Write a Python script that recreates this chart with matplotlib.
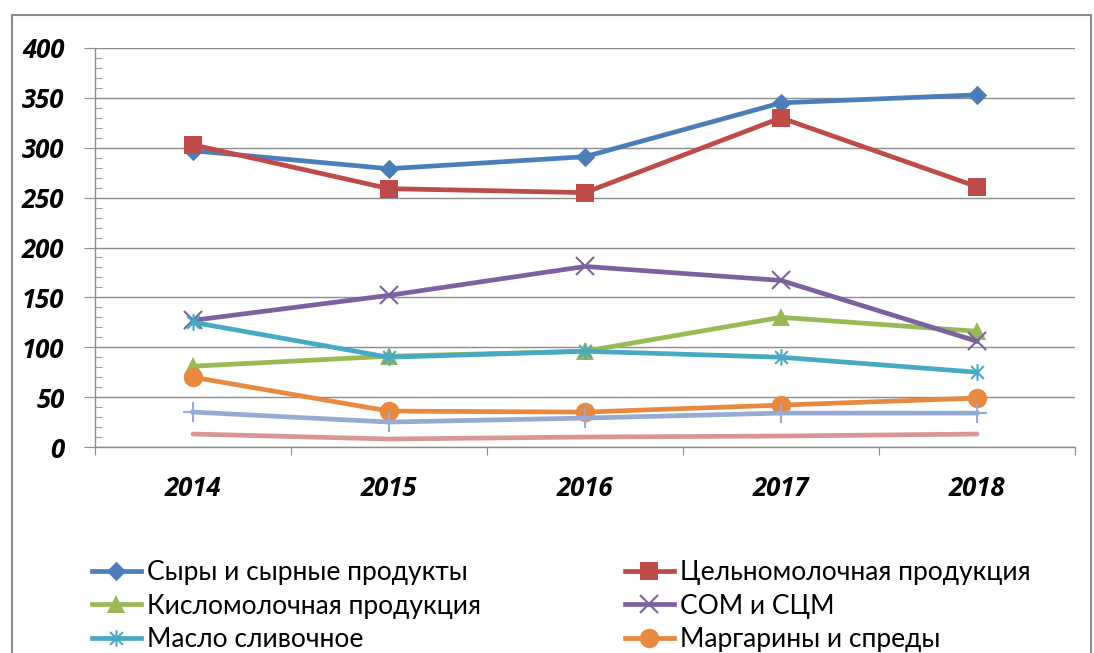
import matplotlib
matplotlib.use("Agg")
import matplotlib.pyplot as plt
from matplotlib.path import Path
from matplotlib.patches import Rectangle
from matplotlib.ticker import MultipleLocator, FixedLocator, NullFormatter
from matplotlib.font_manager import FontProperties

years = ["2014", "2015", "2016", "2017", "2018"]
cheese = [297, 279, 291, 345, 353]
whole_milk = [303, 259, 255, 330, 261]
sour_milk = [81, 91, 96, 130, 116]
som_scm = [127, 152, 181, 167, 106]
butter = [125, 90, 96, 90, 75]
margarine = [70, 36, 35, 42, 49]
series7 = [35, 25, 29, 34, 34]
series8 = [13, 8, 10, 11, 13]

names = ["Сыры и сырные продукты", "Цельномолочная продукция",
         "Кисломолочная продукция", "СОМ и СЦМ",
         "Масло сливочное", "Маргарины и спреды"]

W, H = 1094, 653
fig = plt.figure(figsize=(W / 100, H / 100), dpi=100)
fig.patch.set_facecolor("white")

# outer chart border
fig.add_artist(Rectangle((12 / W, -0.05), (1091 - 12) / W, (H - 15) / H + 0.05,
                         transform=fig.transFigure, fill=False,
                         edgecolor="#8c8c8c", linewidth=1.5))

ax = fig.add_axes([95 / W, (H - 447) / H, 980 / W, 399 / H])

x = list(range(len(years)))

# asterisk marker: x plus vertical line
ast = Path([(-1, -1), (1, 1), (-1, 1), (1, -1), (0, -1.3), (0, 1.3)],
           [Path.MOVETO, Path.LINETO, Path.MOVETO, Path.LINETO, Path.MOVETO, Path.LINETO])

lw = 3.4
h_cheese, = ax.plot(x, cheese, color="#4A7EBB", lw=lw, marker=(4, 0, 0), ms=14, mew=0,
                    label=names[0])
h_whole, = ax.plot(x, whole_milk, color="#BE4B48", lw=lw, marker="s", ms=12.5, mew=0,
                   label=names[1])
h_sour, = ax.plot(x, sour_milk, color="#98B954", lw=lw, marker="^", ms=13, mew=0,
                  label=names[2])
h_som, = ax.plot(x, som_scm, color="#7D60A0", lw=lw, marker="x", ms=13, mew=1.5,
                 label=names[3])
h_butter, = ax.plot(x, butter, color="#46AAC5", lw=lw, marker=ast, ms=12, mew=1.5,
                    label=names[4])
h_marg, = ax.plot(x, margarine, color="#E8893F", lw=lw, marker="o", ms=14, mew=0,
                  label=names[5])
ax.plot(x, series7, color="#95ABD4", lw=lw, marker="+", ms=15, mew=1.5)
ax.plot(x, series8, color="#D99694", lw=lw, solid_capstyle="round")

ax.set_xlim(-0.5, 4.5)
ax.set_ylim(0, 400)

ax.yaxis.set_major_locator(MultipleLocator(50))
ax.yaxis.set_minor_locator(MultipleLocator(10))
ax.grid(axis="y", which="major", color="#8c8c8c", lw=1)
ax.set_axisbelow(True)

ax.xaxis.set_major_locator(FixedLocator([i - 0.5 for i in range(6)]))
ax.xaxis.set_major_formatter(NullFormatter())
ax.set_xticks(x, years, minor=True)

for s in ["top", "right"]:
    ax.spines[s].set_visible(False)
for s in ["left", "bottom"]:
    ax.spines[s].set_color("#8c8c8c")
    ax.spines[s].set_linewidth(1)

tickfont = FontProperties(family="Open Sans", weight="bold", style="italic", size=18.5)
ax.tick_params(axis="y", which="major", length=8, direction="out", color="#8c8c8c",
               pad=14)
ax.tick_params(axis="y", which="minor", length=5, direction="in", color="#8c8c8c")
ax.tick_params(axis="x", which="major", length=6, direction="out", color="#8c8c8c")
ax.tick_params(axis="x", which="minor", length=0, pad=20)
for lab in ax.get_yticklabels():
    lab.set_fontproperties(tickfont)
for lab in ax.get_xticklabels(minor=True):
    lab.set_fontproperties(tickfont)

legkw = dict(ncol=1, loc="upper left", frameon=False,
             prop=dict(family="Lato", size=19), handlelength=1.85, handletextpad=0.25,
             labelspacing=0.33, borderaxespad=0, borderpad=0)
leg1 = fig.legend([h_cheese, h_sour, h_butter], [names[0], names[2], names[4]],
                  bbox_to_anchor=(92 / W, (H - 560) / H), **legkw)
leg2 = fig.legend([h_whole, h_som, h_marg], [names[1], names[3], names[5]],
                  bbox_to_anchor=(625 / W, (H - 560) / H), **legkw)

fig.savefig("out.png", dpi=100)
